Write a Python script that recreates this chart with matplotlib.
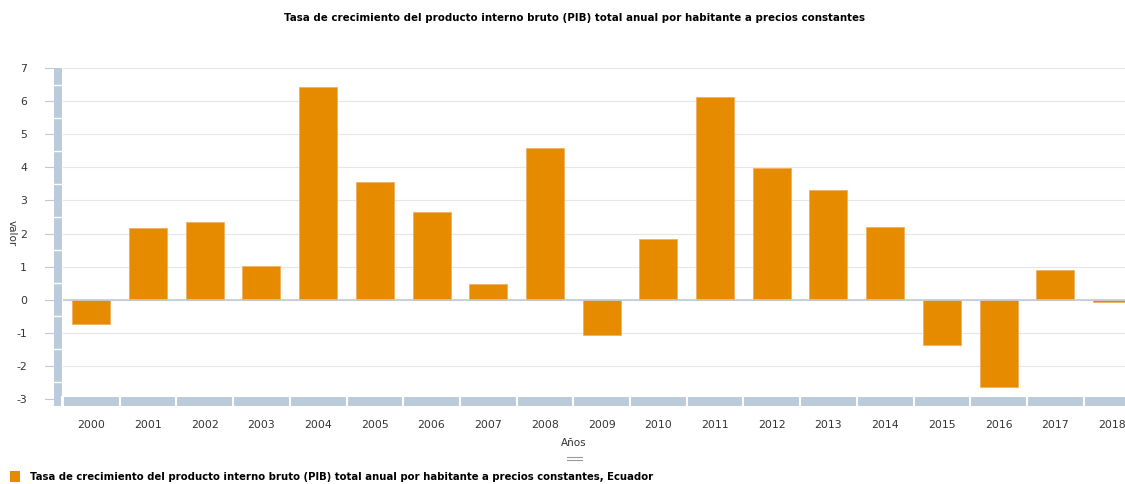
import numpy as np
import matplotlib.pyplot as plt
from matplotlib.patches import Rectangle
from matplotlib.transforms import blended_transform_factory

plt.rcParams['axes.unicode_minus'] = False

years = ['2000', '2001', '2002', '2003', '2004', '2005', '2006', '2007', '2008', '2009',
         '2010', '2011', '2012', '2013', '2014', '2015', '2016', '2017', '2018']
growth = [-0.74, 2.18, 2.36, 1.03, 6.43, 3.57, 2.66, 0.48, 4.59, -1.06,
          1.84, 6.13, 3.99, 3.32, 2.20, -1.36, -2.63, 0.90, -0.06]
y_ticks = [-3, -2, -1, 0, 1, 2, 3, 4, 5, 6, 7]

title = 'Tasa de crecimiento del producto interno bruto (PIB) total anual por habitante a precios constantes'
legend_label = title + ', Ecuador'

W, H = 1125, 484
bar_color = '#E68A00'
nav_color = '#BCCBDB'
text_color = '#333333'

fig = plt.figure(figsize=(W / 100, H / 100), dpi=100)
left, right, top, bottom = 63, 1125, 68, 399
ax = fig.add_axes([left / W, 1 - bottom / H, (right - left) / W, (bottom - top) / H])

x = np.arange(len(years))
ax.bar(x, growth, width=0.67, color=bar_color, edgecolor='#F0B060', linewidth=0.6, zorder=3)

band = 56.7
ax.set_xlim(-0.5, -0.5 + (right - left) / band)
ax.set_ylim(-3, 7)
ax.set_yticks(y_ticks)
ax.grid(axis='y', color='#E6E6E6', linewidth=0.8, zorder=0)
ax.axhline(0, color='#C0CAD6', linewidth=1.2, zorder=4)
for s in ax.spines.values():
    s.set_visible(False)

ax.set_xticks(x)
ax.set_xticklabels(years)
ax.tick_params(axis='x', length=0, pad=15, labelsize=7.8, labelcolor=text_color)
ax.tick_params(axis='y', length=0, pad=26, labelsize=7.8, labelcolor=text_color)

# small tick marks left of the vertical scrollbar
tr_y = blended_transform_factory(fig.transFigure, ax.transData)
for t in y_ticks:
    fig.add_artist(plt.Line2D([45 / W, 54 / W], [t, t], transform=tr_y, color='#C0CAD6', lw=0.8))

# vertical navigator bar
fig.add_artist(Rectangle((54 / W, -3), 8 / W, 10, transform=tr_y, color=nav_color, lw=0))
for v in np.arange(-2.5, 7, 1.0):
    fig.add_artist(plt.Line2D([54 / W, 62 / W], [v, v], transform=tr_y, color='white', lw=1))

# horizontal navigator bar
tr_x = blended_transform_factory(ax.transData, fig.transFigure)
fig.add_artist(Rectangle((54 / W, 1 - 406 / H), 8 / W, 9 / H, transform=fig.transFigure, color=nav_color, lw=0))
fig.add_artist(Rectangle((-0.5, 1 - 406 / H), len(years) + 1, 9 / H, transform=tr_x,
                         color=nav_color, lw=0, clip_on=True))
for i in range(len(years) + 1):
    fig.add_artist(plt.Line2D([i - 0.5, i - 0.5], [1 - 406 / H, 1 - 397 / H], transform=tr_x,
                              color='white', lw=1.5))
fig.add_artist(plt.Line2D([62 / W, 62 / W], [1 - 406 / H, 1 - 397 / H], transform=fig.transFigure,
                          color='white', lw=1.5))

fig.text(574 / W, 1 - 18 / H, title, ha='center', va='center', fontsize=7.35, fontweight='bold', color='#000000')
fig.text(574 / W, 1 - 443 / H, 'Años', ha='center', va='center', fontsize=7.5, color=text_color)
fig.text(12 / W, 1 - 233 / H, 'valor', ha='center', va='center', fontsize=7.5, rotation=270, color=text_color)

# resize handle
for yy in (457, 460):
    fig.add_artist(plt.Line2D([567 / W, 582 / W], [1 - yy / H, 1 - yy / H], transform=fig.transFigure,
                              color='#999999', lw=0.8))

# legend
fig.add_artist(Rectangle((10 / W, 1 - 482 / H), 10 / W, 11 / H, transform=fig.transFigure, color=bar_color, lw=0))
fig.text(30 / W, 1 - 477 / H, legend_label, ha='left', va='center', fontsize=7.27, fontweight='bold', color='#000000')

fig.savefig('out.png', dpi=100)
